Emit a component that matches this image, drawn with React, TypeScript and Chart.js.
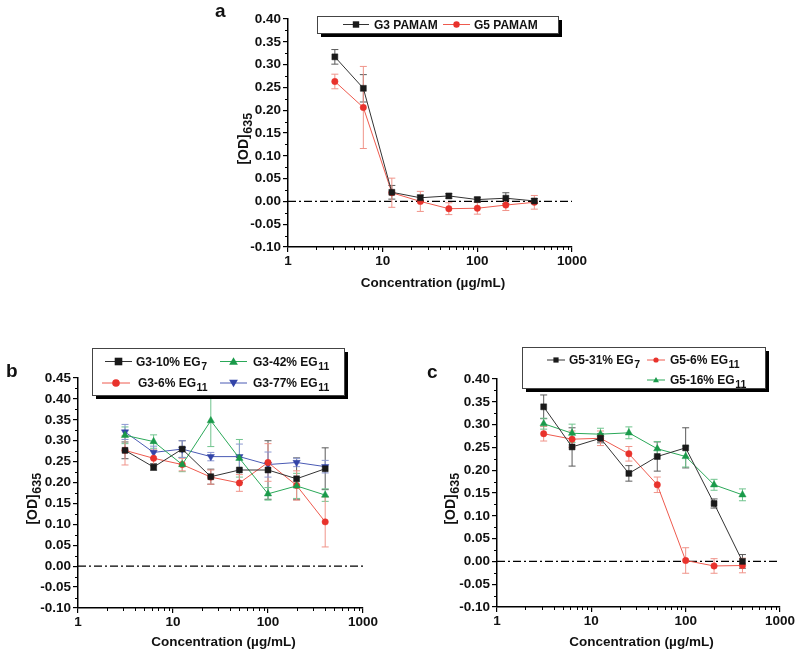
import React, { useEffect, useRef } from 'react';
import { Chart, registerables } from 'chart.js';
Chart.register(...registerables);

const FONT = "'Liberation Sans', Arial, Helvetica, sans-serif";
const W = 800;
const H = 655;
const YW = 60;
const XH = 30;

// ---------- data ----------
const concentrations = [3.125, 6.25, 12.5, 25, 50, 100, 200, 400];
const xTickValues = [1, 10, 100, 1000];

// panel a
const g3Pamam = [0.317, 0.248, 0.020, 0.008, 0.012, 0.004, 0.007, 0.001];
const g3PamamErr = [0.016, 0.030, 0.015, 0.006, 0.005, 0.005, 0.012, 0.005];
const g5Pamam = [0.263, 0.206, 0.019, 0.000, -0.016, -0.015, -0.008, -0.002];
const g5PamamErr = [0.016, 0.090, 0.032, 0.022, 0.013, 0.013, 0.012, 0.015];

// panel b
const g3Eg7p10 = [0.277, 0.237, 0.280, 0.214, 0.230, 0.230, 0.209, 0.233];
const g3Eg7p10Err = [0.020, 0.008, 0.020, 0.018, 0.030, 0.070, 0.050, 0.050];
const g3Eg11p6 = [0.277, 0.258, 0.243, 0.213, 0.199, 0.248, 0.193, 0.106];
const g3Eg11p6Err = [0.035, 0.020, 0.015, 0.017, 0.020, 0.045, 0.035, 0.060];
const g3Eg11p42 = [0.313, 0.298, 0.243, 0.348, 0.258, 0.173, 0.192, 0.170];
const g3Eg11p42Err = [0.020, 0.016, 0.017, 0.062, 0.045, 0.015, 0.030, 0.015];
const g3Eg11p77 = [0.321, 0.272, 0.280, 0.262, 0.262, 0.243, 0.248, 0.238];
const g3Eg11p77Err = [0.018, 0.015, 0.020, 0.010, 0.030, 0.030, 0.010, 0.015];

// panel c
const g5Eg7p31 = [0.339, 0.251, 0.270, 0.193, 0.230, 0.249, 0.127, 0.000];
const g5Eg7p31Err = [0.026, 0.042, 0.010, 0.017, 0.032, 0.044, 0.010, 0.015];
const g5Eg11p6 = [0.280, 0.268, 0.270, 0.236, 0.168, 0.002, -0.010, -0.009];
const g5Eg11p6Err = [0.016, 0.018, 0.016, 0.016, 0.017, 0.028, 0.016, 0.016];
const g5Eg11p16 = [0.302, 0.281, 0.279, 0.282, 0.247, 0.230, 0.168, 0.146];
const g5Eg11p16Err = [0.012, 0.020, 0.013, 0.013, 0.016, 0.023, 0.012, 0.013];

// ---------- styles ----------
const BLACK = { color: '#1a1a1a', line: '#333333', err: '#5a5a5a' };
const RED = { color: '#e8322c', line: '#ee5a4e', err: '#f0948a' };
const GREEN = { color: '#1a9a4a', line: '#2aa858', err: '#70c48e' };
const BLUE = { color: '#3344a8', line: '#4a5ab4', err: '#8c98d2' };

type Style = 'rect' | 'circle' | 'triangle' | 'triangleDown';
interface SeriesDef {
  main: string; sub: string; values: number[]; errors: number[];
  pal: { color: string; line: string; err: string }; style: Style;
}
interface LegendItem { sx0: number; sx1: number; tx: number; y: number; }
interface PanelDef {
  letter: string; letterX: number; letterY: number;
  plot: { l: number; t: number; r: number; b: number };
  yMax: number; series: SeriesDef[];
  legendBox: { x: number; y: number; w: number; h: number };
  legendItems: LegendItem[]; legendMarker: number;
  yTitleX: number; xTitleY: number;
}

const panels: PanelDef[] = [
  {
    letter: 'a', letterX: 215, letterY: 17,
    plot: { l: 288, t: 19, r: 572, b: 247 }, yMax: 0.40,
    series: [
      { main: 'G3 PAMAM', sub: '', values: g3Pamam, errors: g3PamamErr, pal: BLACK, style: 'rect' },
      { main: 'G5 PAMAM', sub: '', values: g5Pamam, errors: g5PamamErr, pal: RED, style: 'circle' },
    ],
    legendBox: { x: 317, y: 16, w: 241, h: 17 },
    legendItems: [
      { sx0: 343, sx1: 369, tx: 374, y: 24.5 },
      { sx0: 443, sx1: 470, tx: 474, y: 24.5 },
    ],
    legendMarker: 3.2,
    yTitleX: 243, xTitleY: 283,
  },
  {
    letter: 'b', letterX: 6, letterY: 377,
    plot: { l: 78, t: 378, r: 363, b: 608 }, yMax: 0.45,
    series: [
      { main: 'G3-10% EG', sub: '7', values: g3Eg7p10, errors: g3Eg7p10Err, pal: BLACK, style: 'rect' },
      { main: 'G3-42% EG', sub: '11', values: g3Eg11p42, errors: g3Eg11p42Err, pal: GREEN, style: 'triangle' },
      { main: 'G3-6% EG', sub: '11', values: g3Eg11p6, errors: g3Eg11p6Err, pal: RED, style: 'circle' },
      { main: 'G3-77% EG', sub: '11', values: g3Eg11p77, errors: g3Eg11p77Err, pal: BLUE, style: 'triangleDown' },
    ],
    legendBox: { x: 92, y: 348, w: 252, h: 47 },
    legendItems: [
      { sx0: 105, sx1: 132, tx: 136, y: 361.5 },
      { sx0: 220, sx1: 247, tx: 253, y: 361.5 },
      { sx0: 102, sx1: 130, tx: 138, y: 383 },
      { sx0: 220, sx1: 247, tx: 253, y: 383 },
    ],
    legendMarker: 3.8,
    yTitleX: 32, xTitleY: 642,
  },
  {
    letter: 'c', letterX: 427, letterY: 378,
    plot: { l: 497, t: 379, r: 780, b: 607 }, yMax: 0.40,
    series: [
      { main: 'G5-31% EG', sub: '7', values: g5Eg7p31, errors: g5Eg7p31Err, pal: BLACK, style: 'rect' },
      { main: 'G5-6% EG', sub: '11', values: g5Eg11p6, errors: g5Eg11p6Err, pal: RED, style: 'circle' },
      { main: 'G5-16% EG', sub: '11', values: g5Eg11p16, errors: g5Eg11p16Err, pal: GREEN, style: 'triangle' },
    ],
    legendBox: { x: 522, y: 347, w: 243, h: 41 },
    legendItems: [
      { sx0: 547, sx1: 565, tx: 569, y: 360 },
      { sx0: 647, sx1: 665, tx: 670, y: 360 },
      { sx0: 647, sx1: 665, tx: 670, y: 380 },
    ],
    legendMarker: 2.6,
    yTitleX: 450, xTitleY: 642,
  },
];

// ---------- drawing helpers ----------
function drawMarker(ctx: CanvasRenderingContext2D, style: Style, x: number, y: number, r: number, color: string) {
  ctx.save();
  ctx.fillStyle = color;
  ctx.beginPath();
  if (style === 'rect') {
    ctx.rect(x - r, y - r, 2 * r, 2 * r);
  } else if (style === 'circle') {
    ctx.arc(x, y, r, 0, Math.PI * 2);
  } else if (style === 'triangle') {
    ctx.moveTo(x, y - r * 1.15);
    ctx.lineTo(x + r * 1.15, y + r * 0.85);
    ctx.lineTo(x - r * 1.15, y + r * 0.85);
    ctx.closePath();
  } else {
    ctx.moveTo(x, y + r * 1.15);
    ctx.lineTo(x + r * 1.15, y - r * 0.85);
    ctx.lineTo(x - r * 1.15, y - r * 0.85);
    ctx.closePath();
  }
  ctx.fill();
  ctx.restore();
}

function drawRich(ctx: CanvasRenderingContext2D, x: number, y: number, main: string, sub: string,
  size: number, subSize: number, subDy: number, align: 'left' | 'center') {
  ctx.font = `bold ${size}px ${FONT}`;
  const w1 = ctx.measureText(main).width;
  ctx.font = `bold ${subSize}px ${FONT}`;
  const w2 = sub ? ctx.measureText(sub).width : 0;
  const x0 = align === 'center' ? x - (w1 + w2) / 2 : x;
  ctx.textAlign = 'left';
  ctx.textBaseline = 'alphabetic';
  ctx.font = `bold ${size}px ${FONT}`;
  ctx.fillText(main, x0, y);
  if (sub) {
    ctx.font = `bold ${subSize}px ${FONT}`;
    ctx.fillText(sub, x0 + w1 + 0.5, y + subDy);
  }
}

function makePlugin(p: PanelDef) {
  return {
    id: 'panelDeco' + p.letter,
    beforeDatasetsDraw(chart: any) {
      const { ctx, chartArea } = chart;
      const ys = chart.scales.y;
      const y0 = ys.getPixelForValue(0);
      ctx.save();
      ctx.strokeStyle = '#000';
      ctx.lineWidth = 1.2;
      ctx.setLineDash([8, 3, 2, 3]);
      ctx.beginPath();
      ctx.moveTo(chartArea.left, y0);
      ctx.lineTo(chartArea.right, y0);
      ctx.stroke();
      ctx.restore();

      p.series.forEach((s, i) => {
        const meta = chart.getDatasetMeta(i);
        ctx.save();
        ctx.strokeStyle = s.pal.err;
        ctx.lineWidth = 1;
        meta.data.forEach((pt: any, j: number) => {
          const v = s.values[j];
          const e = s.errors[j];
          const yt = ys.getPixelForValue(v + e);
          const yb = ys.getPixelForValue(v - e);
          const x = pt.x;
          ctx.beginPath();
          ctx.moveTo(x, yt); ctx.lineTo(x, yb);
          ctx.moveTo(x - 3.5, yt); ctx.lineTo(x + 3.5, yt);
          ctx.moveTo(x - 3.5, yb); ctx.lineTo(x + 3.5, yb);
          ctx.stroke();
        });
        ctx.restore();
      });
    },
    afterDraw(chart: any) {
      const { ctx, chartArea } = chart;
      const xs = chart.scales.x;
      const ys = chart.scales.y;
      ctx.save();
      // minor ticks
      ctx.strokeStyle = '#000';
      ctx.lineWidth = 1;
      ctx.beginPath();
      for (let d = 1; d < 1000; d *= 10) {
        for (let k = 2; k <= 9; k++) {
          const px = Math.round(xs.getPixelForValue(k * d)) + 0.5;
          ctx.moveTo(px, chartArea.bottom);
          ctx.lineTo(px, chartArea.bottom + 3);
        }
      }
      for (let v = -0.075; v < p.yMax; v += 0.05) {
        const py = Math.round(ys.getPixelForValue(v)) + 0.5;
        ctx.moveTo(chartArea.left - 3, py);
        ctx.lineTo(chartArea.left, py);
      }
      ctx.stroke();

      ctx.fillStyle = '#111';
      // x title
      ctx.font = `bold 13.5px ${FONT}`;
      ctx.textAlign = 'center';
      ctx.textBaseline = 'middle';
      ctx.fillText('Concentration (\u00b5g/mL)', (chartArea.left + chartArea.right) / 2 + 3, p.xTitleY);
      // y title
      ctx.save();
      ctx.translate(p.yTitleX, (chartArea.top + chartArea.bottom) / 2 + 6);
      ctx.rotate(-Math.PI / 2);
      drawRich(ctx, 0, 5, '[OD]', '635', 14, 12.5, 4, 'center');
      ctx.restore();
      // letter
      ctx.font = `bold 19px ${FONT}`;
      ctx.textAlign = 'left';
      ctx.textBaseline = 'alphabetic';
      ctx.fillText(p.letter, p.letterX, p.letterY);

      // legend
      const b = p.legendBox;
      ctx.fillStyle = '#000';
      ctx.fillRect(b.x + 4, b.y + 4, b.w, b.h);
      ctx.fillStyle = '#fff';
      ctx.fillRect(b.x, b.y, b.w, b.h);
      ctx.strokeStyle = '#444';
      ctx.lineWidth = 1;
      ctx.strokeRect(b.x + 0.5, b.y + 0.5, b.w, b.h);
      p.series.forEach((s, i) => {
        const it = p.legendItems[i];
        ctx.strokeStyle = s.pal.line;
        ctx.lineWidth = 1;
        ctx.beginPath();
        ctx.moveTo(it.sx0, it.y);
        ctx.lineTo(it.sx1, it.y);
        ctx.stroke();
        drawMarker(ctx, s.style, (it.sx0 + it.sx1) / 2, it.y, p.legendMarker, s.pal.color);
        ctx.fillStyle = '#111';
        drawRich(ctx, it.tx, it.y + 4.3, s.main, s.sub, 12, 10.5, 4, 'left');
      });
      ctx.restore();
    },
  };
}

function buildConfig(p: PanelDef): any {
  const datasets = p.series.map((s) => ({
    label: s.main + s.sub,
    data: concentrations.map((c, i) => ({ x: c, y: s.values[i] })),
    borderColor: s.pal.line,
    backgroundColor: s.pal.color,
    pointBackgroundColor: s.pal.color,
    pointBorderColor: s.pal.color,
    borderWidth: 1,
    pointBorderWidth: 0.5,
    tension: 0,
    pointStyle: s.style === 'triangleDown' ? 'triangle' : s.style,
    rotation: s.style === 'triangleDown' ? 180 : 0,
    pointRadius: s.style === 'rect' ? 4.2 : s.style === 'circle' ? 3.2 : 4.2,
  }));
  const fmt = (v: any) => {
    const n = Number(v);
    return (Math.abs(n) < 1e-9 ? 0 : n).toFixed(2);
  };
  return {
    type: 'line',
    data: { datasets },
    options: {
      responsive: false,
      maintainAspectRatio: false,
      animation: false,
      events: [],
      layout: {
        padding: { left: p.plot.l - YW, top: p.plot.t, right: W - p.plot.r, bottom: H - p.plot.b - XH },
      },
      plugins: { legend: { display: false }, tooltip: { enabled: false }, title: { display: false } },
      scales: {
        x: {
          type: 'logarithmic',
          min: 1,
          max: 1000,
          afterBuildTicks: (s: any) => { s.ticks = xTickValues.map((v) => ({ value: v })); },
          afterFit: (s: any) => { s.height = XH; },
          grid: { display: true, drawOnChartArea: false, drawTicks: true, tickLength: 5, color: '#000', lineWidth: 1.2 },
          border: { display: true, color: '#000', width: 1.5 },
          ticks: {
            color: '#111', font: { family: FONT, size: 13.5, weight: 'bold' }, padding: 1,
            maxRotation: 0, autoSkip: false, callback: (v: any) => String(v),
          },
        },
        y: {
          type: 'linear',
          min: -0.1,
          max: p.yMax,
          afterFit: (s: any) => { s.width = YW; },
          grid: { display: true, drawOnChartArea: false, drawTicks: true, tickLength: 5, color: '#000', lineWidth: 1.2 },
          border: { display: true, color: '#000', width: 1.5 },
          ticks: {
            stepSize: 0.05, color: '#111', font: { family: FONT, size: 13.5, weight: 'bold' }, padding: 2,
            autoSkip: false, callback: fmt,
          },
        },
      },
    },
    plugins: [makePlugin(p)],
  };
}

function Panel({ def }: { def: PanelDef }) {
  const ref = useRef<HTMLCanvasElement | null>(null);
  useEffect(() => {
    if (!ref.current) return;
    const chart = new Chart(ref.current, buildConfig(def));
    return () => chart.destroy();
  }, [def]);
  return (
    <canvas
      ref={ref}
      width={W}
      height={H}
      style={{ position: 'absolute', left: 0, top: 0, width: W, height: H, pointerEvents: 'none' }}
    />
  );
}

export default function App() {
  return (
    <div style={{ position: 'absolute', left: 0, top: 0, width: W, height: H, background: '#fff', overflow: 'hidden' }}>
      {panels.map((p) => (
        <Panel key={p.letter} def={p} />
      ))}
    </div>
  );
}
